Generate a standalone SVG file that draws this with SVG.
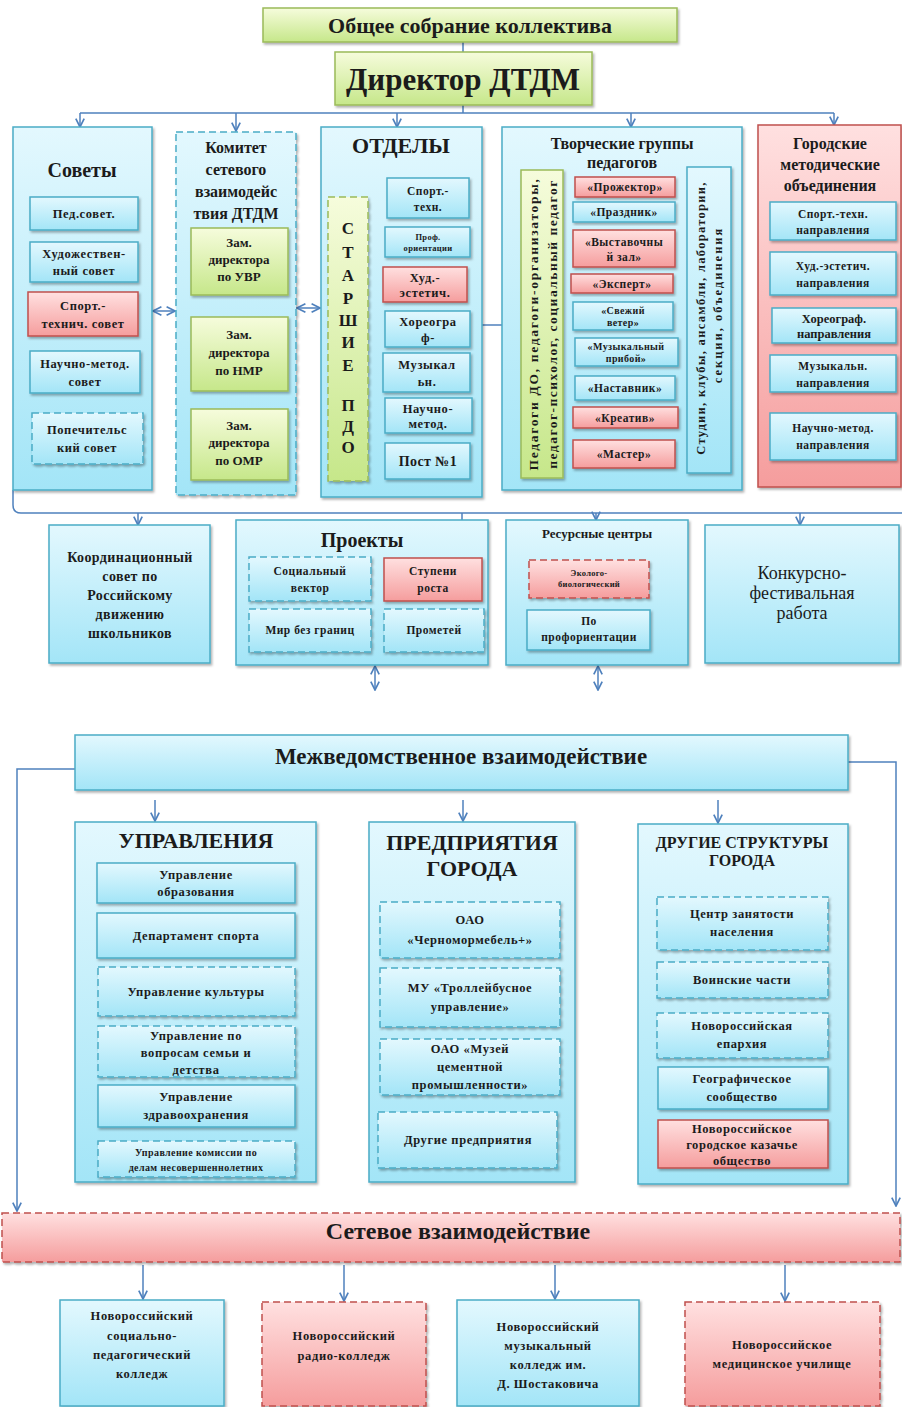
<svg xmlns="http://www.w3.org/2000/svg" width="902" height="1407" viewBox="0 0 902 1407">
<defs>
<linearGradient id="gB" x1="0" y1="0" x2="0" y2="1"><stop offset="0" stop-color="#e3f8fe"/><stop offset="1" stop-color="#a3e5f7"/></linearGradient>
<linearGradient id="gR" x1="0" y1="0" x2="0" y2="1"><stop offset="0" stop-color="#ffe0e0"/><stop offset="1" stop-color="#f59d9d"/></linearGradient>
<linearGradient id="gG" x1="0" y1="0" x2="0" y2="1"><stop offset="0" stop-color="#f6fcdc"/><stop offset="1" stop-color="#c6e78a"/></linearGradient>
<filter id="sh" x="-10%" y="-10%" width="130%" height="130%"><feDropShadow dx="1.5" dy="2" stdDeviation="1.2" flood-color="#000" flood-opacity="0.3"/></filter>
<marker id="ar" viewBox="0 0 10 10" refX="9" refY="5" markerWidth="7" markerHeight="7" orient="auto-start-reverse"><path d="M1,1 L9,5 L1,9" fill="none" stroke="#4f81bd" stroke-width="1.6"/></marker>
<style>
.b{fill:url(#gB);stroke:#4bacc6;stroke-width:1.5;filter:url(#sh)}
.r{fill:url(#gR);stroke:#c0504d;stroke-width:1.5;filter:url(#sh)}
.g{fill:url(#gG);stroke:#9bbb59;stroke-width:1.5;filter:url(#sh)}
.d{stroke-dasharray:7 4}
text{font-family:"Liberation Serif","DejaVu Serif",serif;font-weight:bold;fill:#1b1b1b;text-anchor:middle}
.f8{font-size:8.5px;letter-spacing:0.3px}.f9{font-size:10px;letter-spacing:0.4px}.f10{font-size:11.5px;letter-spacing:0.5px}.f11{font-size:12.5px;letter-spacing:0.6px}.f13{font-size:13px}.f14{font-size:14px;letter-spacing:0.4px}.f16{font-size:16px}.f17{font-size:17px}.f20{font-size:20px}.f22{font-size:22px}
.c{fill:none;stroke:#4f81bd;stroke-width:1.5}
.a{marker-end:url(#ar)}
.aa{marker-start:url(#ar);marker-end:url(#ar)}
</style>
</defs>

<g id="connectors">
<path class="c" d="M463,42 V52"/>
<path class="c" d="M463,105 V113 M80,113 H834"/>
<path class="c a" d="M80,113 V127"/>
<path class="c a" d="M236,113 V131"/>
<path class="c a" d="M397,113 V127"/>
<path class="c a" d="M631,113 V127"/>
<path class="c a" d="M834,113 V125"/>
<path class="c aa" d="M153,311 H175"/>
<path class="c aa" d="M297,308 H320"/>
<path class="c a" d="M482,325 H520"/>
<path class="c" d="M13,490 V505 Q13,513 21,513 H902"/>
<path class="c a" d="M138,513 V525"/>
<path class="c" d="M462,513 V533"/>
<path class="c a" d="M596,513 V520"/>
<path class="c a" d="M800,513 V525"/>
<path class="c aa" d="M375,666 V690"/>
<path class="c aa" d="M598,666 V690"/>
<path class="c a" d="M75,769 H17 V1211"/>
<path class="c a" d="M848,762 H896 V1206"/>
<path class="c a" d="M155,800 V821"/>
<path class="c a" d="M463,800 V821"/>
<path class="c a" d="M718,800 V823"/>
<path class="c a" d="M143,1265 V1299"/>
<path class="c a" d="M344,1265 V1301"/>
<path class="c a" d="M555,1265 V1299"/>
<path class="c a" d="M785,1265 V1301"/>
</g>

<g id="obshchee"><rect class="g" x="263" y="8" width="414" height="34"/><text class="f22" x="470" y="33">Общее собрание коллектива</text></g>
<g id="direktor"><rect class="g" x="335" y="52" width="257" height="53"/><text x="463" y="90" style="font-size:31px">Директор ДТДМ</text></g>

<g id="sovety">
<rect class="b" x="13" y="127" width="139" height="363"/>
<text class="f20" x="82" y="177">Советы</text>
<rect class="b" x="30" y="197" width="108" height="33"/><text class="f11" x="84" y="218">Пед.совет.</text>
<rect class="b" x="30" y="242" width="108" height="40"/><text class="f11" x="84" y="258">Художествен-</text><text class="f11" x="84" y="275">ный совет</text>
<rect class="r" x="28" y="292" width="110" height="44"/><text class="f11" x="83" y="310">Спорт.-</text><text class="f11" x="83" y="328">технич. совет</text>
<rect class="b" x="30" y="351" width="110" height="42"/><text class="f11" x="85" y="368">Научно-метод.</text><text class="f11" x="85" y="386">совет</text>
<rect class="b d" x="32" y="413" width="111" height="51"/><text class="f11" x="87" y="434">Попечительс</text><text class="f11" x="87" y="452">кий совет</text>
</g>

<g id="komitet">
<rect class="b d" x="176" y="132" width="120" height="363"/>
<text class="f16" x="236" y="153">Комитет</text><text class="f16" x="236" y="175">сетевого</text><text class="f16" x="236" y="197">взаимодейс</text><text class="f16" x="236" y="219">твия ДТДМ</text>
<rect class="g" x="191" y="228" width="97" height="67"/><text class="f13" x="239" y="247">Зам.</text><text class="f13" x="239" y="264">директора</text><text class="f13" x="239" y="281">по УВР</text>
<rect class="g" x="191" y="317" width="97" height="74"/><text class="f13" x="239" y="339">Зам.</text><text class="f13" x="239" y="357">директора</text><text class="f13" x="239" y="375">по НМР</text>
<rect class="g" x="191" y="409" width="97" height="71"/><text class="f13" x="239" y="430">Зам.</text><text class="f13" x="239" y="447">директора</text><text class="f13" x="239" y="465">по ОМР</text>
</g>

<g id="otdely">
<rect class="b" x="321" y="127" width="161" height="370"/>
<text class="f22" x="401" y="153">ОТДЕЛЫ</text>
<rect class="g d" x="328" y="197" width="40" height="284"/>
<g class="f17"><text x="348" y="234">С</text><text x="348" y="258">Т</text><text x="348" y="281">А</text><text x="348" y="304">Р</text><text x="348" y="326">Ш</text><text x="348" y="348">И</text><text x="348" y="371">Е</text><text x="348" y="411">П</text><text x="348" y="432">Д</text><text x="348" y="453">О</text></g>
<rect class="b" x="387" y="178" width="82" height="40"/><text class="f10" x="428" y="195">Спорт.-</text><text class="f10" x="428" y="211">техн.</text>
<rect class="b" x="385" y="227" width="85" height="30"/><text class="f8" x="428" y="240">Проф.</text><text class="f8" x="428" y="251">ориентации</text>
<rect class="r" x="383" y="267" width="84" height="35"/><text class="f11" x="425" y="282">Худ.-</text><text class="f11" x="425" y="297">эстетич.</text>
<rect class="b" x="385" y="311" width="85" height="36"/><text class="f11" x="428" y="326">Хореогра</text><text class="f11" x="428" y="342">ф-</text>
<rect class="b" x="383" y="353" width="87" height="39"/><text class="f11" x="427" y="369">Музыкал</text><text class="f11" x="427" y="386">ьн.</text>
<rect class="b" x="385" y="398" width="87" height="35"/><text class="f11" x="428" y="413">Научно-</text><text class="f11" x="428" y="428">метод.</text>
<rect class="b" x="385" y="443" width="85" height="36"/><text class="f14" x="428" y="466">Пост №1</text>
</g>

<g id="tvorcheskie">
<rect class="b" x="502" y="127" width="240" height="363"/>
<text class="f16" x="622" y="149">Творческие  группы</text><text class="f16" x="622" y="168">педагогов</text>
<rect class="g" x="521" y="170" width="42" height="308"/>
<text x="0" y="0" transform="translate(538,324) rotate(-90)" style="font-size:13.5px;letter-spacing:1.7px">Педагоги ДО, педагоги-организаторы,</text>
<text x="0" y="0" transform="translate(557,324) rotate(-90)" style="font-size:13.5px;letter-spacing:1.5px">педагог-психолог, социальный педагог</text>
<rect class="b" x="687" y="167" width="44" height="306"/>
<text x="0" y="0" transform="translate(705,318) rotate(-90)" style="font-size:12.5px;letter-spacing:1.3px">Студии, клубы, ансамбли, лаборатории,</text>
<text x="0" y="0" transform="translate(722,305) rotate(-90)" style="font-size:12.5px;letter-spacing:2px">секции, объединения</text>
<rect class="r" x="575" y="177" width="100" height="20"/><text class="f10" x="625" y="191">«Прожектор»</text>
<rect class="b" x="573" y="202" width="102" height="20"/><text class="f10" x="624" y="216">«Праздник»</text>
<rect class="r" x="573" y="230" width="102" height="37"/><text class="f10" x="624" y="246">«Выставочны</text><text class="f10" x="624" y="261">й зал»</text>
<rect class="r" x="571" y="274" width="102" height="19"/><text class="f10" x="622" y="288">«Эксперт»</text>
<rect class="b" x="573" y="302" width="100" height="28"/><text class="f9" x="623" y="314">«Свежий</text><text class="f9" x="623" y="326">ветер»</text>
<rect class="b" x="575" y="338" width="103" height="28"/><text class="f9" x="626" y="350">«Музыкальный</text><text class="f9" x="626" y="362">прибой»</text>
<rect class="b" x="575" y="376" width="100" height="24"/><text class="f10" x="625" y="392">«Наставник»</text>
<rect class="r" x="573" y="407" width="105" height="21"/><text class="f10" x="625" y="422">«Креатив»</text>
<rect class="r" x="573" y="440" width="102" height="28"/><text class="f10" x="624" y="458">«Мастер»</text>
</g>

<g id="gorodskie">
<rect class="r" x="758" y="125" width="143" height="362"/>
<text class="f16" x="830" y="149">Городские</text><text class="f16" x="830" y="170">методические</text><text class="f16" x="830" y="191">объединения</text>
<rect class="b" x="770" y="202" width="126" height="38"/><text class="f10" x="833" y="218">Спорт.-техн.</text><text class="f10" x="833" y="234">направления</text>
<rect class="b" x="770" y="252" width="126" height="43"/><text class="f10" x="833" y="270">Худ.-эстетич.</text><text class="f10" x="833" y="287">направления</text>
<rect class="b" x="772" y="308" width="124" height="35"/><text style="font-size:12.5px" x="834" y="323">Хореограф.</text><text style="font-size:12.5px" x="834" y="338">направления</text>
<rect class="b" x="770" y="355" width="126" height="37"/><text class="f10" x="833" y="370">Музыкальн.</text><text class="f10" x="833" y="387">направления</text>
<rect class="b" x="770" y="413" width="126" height="47"/><text class="f10" x="833" y="432">Научно-метод.</text><text class="f10" x="833" y="449">направления</text>
</g>

<g id="koordinacionnyj">
<rect class="b" x="49" y="525" width="161" height="138"/>
<text class="f14" x="130" y="562">Координационный</text><text class="f14" x="130" y="581">совет по</text><text class="f14" x="130" y="600">Российскому</text><text class="f14" x="130" y="619">движению</text><text class="f14" x="130" y="638">школьников</text>
</g>

<g id="proekty">
<rect class="b" x="236" y="520" width="252" height="145"/>
<text class="f20" x="362" y="547">Проекты</text>
<rect class="b d" x="249" y="557" width="122" height="44"/><text class="f10" x="310" y="575">Социальный</text><text class="f10" x="310" y="592">вектор</text>
<rect class="r" x="384" y="558" width="98" height="43"/><text class="f10" x="433" y="575">Ступени</text><text class="f10" x="433" y="592">роста</text>
<rect class="b d" x="249" y="609" width="122" height="43"/><text class="f10" x="310" y="634">Мир без границ</text>
<rect class="b d" x="384" y="609" width="100" height="43"/><text class="f10" x="434" y="634">Прометей</text>
</g>

<g id="resursnye">
<rect class="b" x="506" y="520" width="182" height="145"/>
<text class="f13" x="597" y="538">Ресурсные центры</text>
<rect class="r d" x="529" y="560" width="120" height="38"/><text class="f8" x="589" y="576">Эколого-</text><text class="f8" x="589" y="587">биологический</text>
<rect class="b" x="527" y="610" width="123" height="40"/><text class="f10" x="589" y="625">По</text><text class="f10" x="589" y="641">профориентации</text>
</g>

<g id="konkursno">
<rect class="b" x="705" y="525" width="194" height="138"/>
<text x="802" y="579" style="font-size:18px;font-weight:normal">Конкурсно-</text><text x="802" y="599" style="font-size:18px;font-weight:normal">фестивальная</text><text x="802" y="619" style="font-size:18px;font-weight:normal">работа</text>
</g>

<g id="mezhved">
<rect class="b" x="75" y="735" width="773" height="55"/>
<text x="461" y="764" style="font-size:23px">Межведомственное взаимодействие</text>
</g>

<g id="upravleniya">
<rect class="b" x="75" y="822" width="241" height="360"/>
<text class="f22" x="196" y="848">УПРАВЛЕНИЯ</text>
<rect class="b" x="97" y="863" width="198" height="40"/><text class="f11" x="196" y="879">Управление</text><text class="f11" x="196" y="896">образования</text>
<rect class="b" x="97" y="913" width="198" height="45"/><text class="f11" x="196" y="940">Департамент  спорта</text>
<rect class="b d" x="98" y="967" width="197" height="49"/><text class="f11" x="196" y="996">Управление  культуры</text>
<rect class="b d" x="98" y="1026" width="197" height="51"/><text class="f11" x="196" y="1040">Управление  по</text><text class="f11" x="196" y="1057">вопросам семьи и</text><text class="f11" x="196" y="1074">детства</text>
<rect class="b" x="98" y="1085" width="197" height="42"/><text class="f11" x="196" y="1101">Управление</text><text class="f11" x="196" y="1119">здравоохранения</text>
<rect class="b d" x="98" y="1141" width="197" height="36"/><text class="f9" x="196" y="1156">Управление комиссии по</text><text class="f9" x="196" y="1171">делам несовершеннолетних</text>
</g>

<g id="predpriyatiya">
<rect class="b" x="369" y="822" width="206" height="360"/>
<text class="f22" x="472" y="850">ПРЕДПРИЯТИЯ</text><text class="f22" x="472" y="876">ГОРОДА</text>
<rect class="b d" x="380" y="902" width="180" height="56"/><text class="f11" x="470" y="924">ОАО</text><text class="f11" x="470" y="944">«Черномормебель+»</text>
<rect class="b d" x="380" y="968" width="180" height="59"/><text class="f11" x="470" y="992">МУ «Троллейбусное</text><text class="f11" x="470" y="1011">управление»</text>
<rect class="b d" x="380" y="1039" width="180" height="56"/><text class="f11" x="470" y="1053">ОАО  «Музей</text><text class="f11" x="470" y="1071">цементной</text><text class="f11" x="470" y="1089">промышленности»</text>
<rect class="b d" x="378" y="1112" width="179" height="56"/><text class="f11" x="468" y="1144">Другие  предприятия</text>
</g>

<g id="drugie">
<rect class="b" x="638" y="824" width="210" height="360"/>
<text class="f16" x="742" y="848">ДРУГИЕ СТРУКТУРЫ</text><text class="f16" x="742" y="866">ГОРОДА</text>
<rect class="b d" x="657" y="897" width="171" height="53"/><text class="f11" x="742" y="918">Центр  занятости</text><text class="f11" x="742" y="936">населения</text>
<rect class="b d" x="657" y="962" width="171" height="36"/><text class="f11" x="742" y="984">Воинские  части</text>
<rect class="b d" x="657" y="1013" width="171" height="45"/><text class="f11" x="742" y="1030">Новороссийская</text><text class="f11" x="742" y="1048">епархия</text>
<rect class="b" x="658" y="1067" width="170" height="42"/><text class="f11" x="742" y="1083">Географическое</text><text class="f11" x="742" y="1101">сообщество</text>
<rect class="r" x="658" y="1120" width="170" height="48"/><text class="f11" x="742" y="1133">Новороссийское</text><text class="f11" x="742" y="1149">городское казачье</text><text class="f11" x="742" y="1165">общество</text>
</g>

<g id="setevoe">
<rect class="r d" x="2" y="1213" width="898" height="49"/>
<text x="458" y="1239" style="font-size:24px">Сетевое взаимодействие</text>
</g>

<g id="kolledzh-socped">
<rect class="b" x="60" y="1300" width="164" height="106"/>
<text class="f11" x="142" y="1320">Новороссийский</text><text class="f11" x="142" y="1340">социально-</text><text class="f11" x="142" y="1359">педагогический</text><text class="f11" x="142" y="1378">колледж</text>
</g>
<g id="kolledzh-radio">
<rect class="r d" x="262" y="1302" width="164" height="104"/>
<text class="f11" x="344" y="1340">Новороссийский</text><text class="f11" x="344" y="1360">радио-колледж</text>
</g>
<g id="kolledzh-muz">
<rect class="b" x="457" y="1300" width="182" height="106"/>
<text class="f11" x="548" y="1331">Новороссийский</text><text class="f11" x="548" y="1350">музыкальный</text><text class="f11" x="548" y="1369">колледж им.</text><text class="f11" x="548" y="1388">Д. Шостаковича</text>
</g>
<g id="uchilishche-med">
<rect class="r d" x="685" y="1302" width="195" height="104"/>
<text class="f11" x="782" y="1349">Новороссийское</text><text class="f11" x="782" y="1368">медицинское училище</text>
</g>
</svg>
